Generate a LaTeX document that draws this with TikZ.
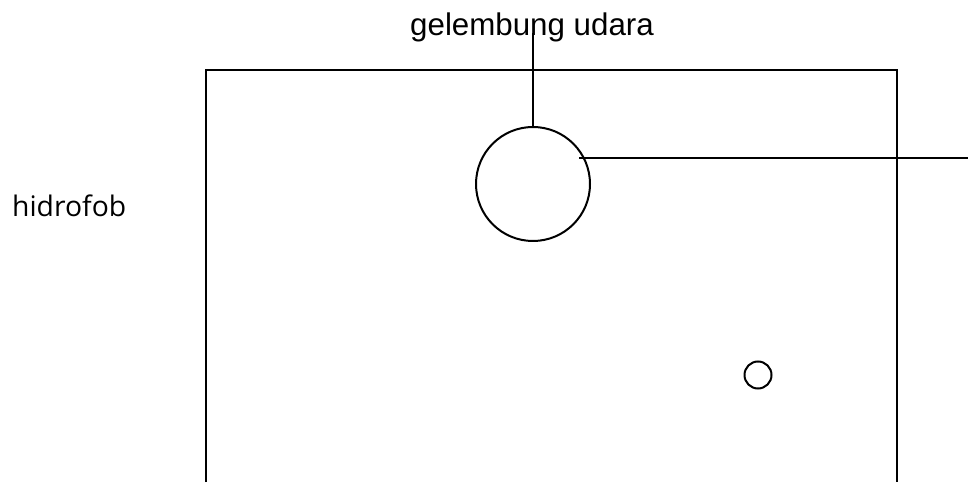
\documentclass[tikz,border=0pt]{standalone}
\usepackage{fontspec}
\setmainfont{Liberation Sans}
\newfontfamily\labelfont{Open Sans}
\begin{document}
\begin{tikzpicture}[x=1pt,y=1pt,
  line/.style={line width=2pt,black},
  bubble/.style={circle,draw,line width=2pt,inner sep=0pt},
  lbl/.style={anchor=base west,inner sep=0pt,font=\fontsize{31.3}{36}\selectfont}]
\useasboundingbox (0,0) rectangle (968,482);
% container (open at the bottom)
\coordinate (bl) at (206,0);
\coordinate (tl) at (206,412);
\coordinate (tr) at (897,412);
\coordinate (br) at (897,0);
\draw[line] (bl) -- (tl) -- (tr) -- (br);
% bubbles
\node[bubble,minimum size=114pt] (big) at (533,298) {};
\node[bubble,minimum size=27pt] (small) at (758,107) {};
% labels
\node[lbl] (gel) at (410,446) {gelembung udara};
\node[lbl,font=\labelfont\fontsize{28.3}{32}\selectfont] (hid) at (12,265) {hidrofob};
% leader lines
\coordinate (gtop) at (533,449);
\draw[line] (big.north) -- (gtop);
\coordinate (hstart) at (579,324);
\coordinate (hend) at (968,324);
\draw[line] (hstart) -- (hend);
\end{tikzpicture}
\end{document}
